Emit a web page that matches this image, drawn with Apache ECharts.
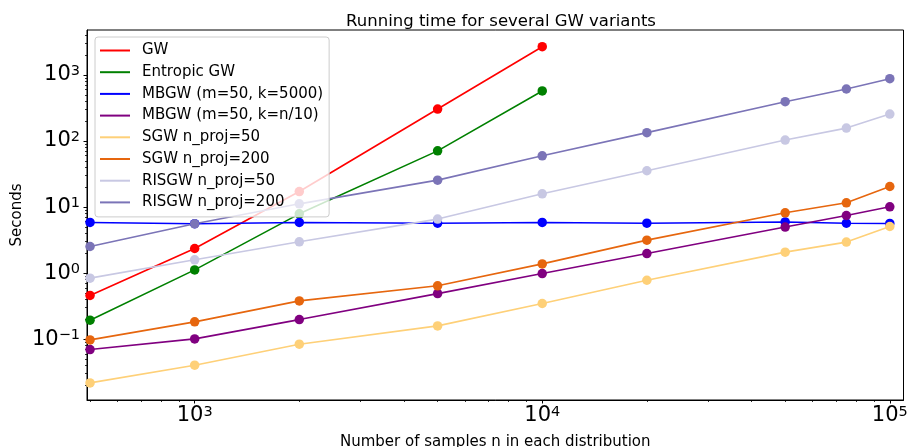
<!DOCTYPE html>
<html>
<head>
<meta charset="utf-8">
<script src="https://cdn.jsdelivr.net/npm/echarts@6/dist/echarts.min.js"></script>
<style>html,body{margin:0;padding:0;background:#fff}#c{width:907px;height:447px}</style>
</head>
<body>
<div id="c"></div>
<script>
const xValues = [500, 1000, 2000, 5000, 10000, 20000, 50000, 75000, 100000];
const gw = [0.46, 2.36, 17.2, 305, 2680];
const entropicGw = [0.194, 1.12, 7.9, 71, 573];
const mbgwK5000 = [5.85, 5.6, 5.85, 5.7, 5.85, 5.7, 5.95, 5.7, 5.65];
const mbgwKn10 = [0.0697, 0.101, 0.198, 0.49, 0.986, 1.98, 4.98, 7.46, 10.1];
const sgw50 = [0.0218, 0.0404, 0.084, 0.159, 0.347, 0.78, 2.08, 2.95, 5.08];
const sgw200 = [0.0975, 0.183, 0.38, 0.643, 1.38, 3.16, 8.2, 11.6, 20.5];
const risgw50 = [0.84, 1.59, 2.98, 6.58, 15.9, 35.5, 103.5, 157, 256];
const risgw200 = [2.53, 5.58, 11.2, 25.6, 59.8, 134, 394, 614, 880];

const seriesNames = ['GW', 'Entropic GW', 'MBGW (m=50, k=5000)', 'MBGW (m=50, k=n/10)',
  'SGW n_proj=50', 'SGW n_proj=200', 'RISGW n_proj=50', 'RISGW n_proj=200'];
const seriesValues = [gw, entropicGw, mbgwK5000, mbgwKn10, sgw50, sgw200, risgw50, risgw200];
const seriesColors = ['#ff0000', '#008000', '#0000ff', '#800080', '#fed078', '#e6660e', '#c8c8e3', '#7b74b7'];

const xMin = 490, xMax = 109500, yMin = 0.012, yMax = 4800;

function minorTicks(lo, hi) {
  const out = [];
  for (let e = Math.floor(Math.log10(lo)); e <= Math.ceil(Math.log10(hi)); e++) {
    for (let m = 2; m <= 9; m++) {
      const v = m * Math.pow(10, e);
      if (v >= lo && v <= hi) out.push(Math.log10(v));
    }
  }
  return out;
}

function fmt(v) {
  const e = Math.round(Math.log10(v));
  if (Math.abs(Math.log10(v) - e) > 1e-6) return '';
  const s = e < 0 ? '\u2212' + (-e) : String(e);
  return '{b|10}{s|' + s + '}';
}
const rich = {
  b: { fontSize: 21, lineHeight: 22, color: '#000', fontFamily: 'DejaVu Sans' },
  s: { fontSize: 14.5, lineHeight: 14, color: '#000', fontFamily: 'DejaVu Sans', verticalAlign: 'top' }
};
const font = 'DejaVu Sans';

const chart = echarts.init(document.getElementById('c'), null, { renderer: 'canvas' });
chart.setOption({
  animation: false,
  backgroundColor: '#fff',
  title: {
    text: 'Running time for several GW variants',
    left: 496, top: 8, textAlign: 'center',
    textStyle: { fontSize: 16.5, fontWeight: 'normal', color: '#000', fontFamily: font }
  },
  grid: { left: 87, right: 3.5, top: 30, bottom: 47, show: true, borderColor: '#000', borderWidth: 1,
    backgroundColor: 'transparent', containLabel: false, outerBoundsMode: 'none' },
  legend: {
    orient: 'vertical', left: 95, top: 37,
    itemWidth: 30, itemHeight: 2, itemGap: 6.7, icon: 'rect',
    padding: [6, 6, 7, 5],
    backgroundColor: 'rgba(255,255,255,0.8)', borderColor: '#cccccc', borderWidth: 1, borderRadius: 3,
    textStyle: { fontSize: 15, lineHeight: 15, color: '#000', fontFamily: font, padding: [0, 0, 0, 7] },
    data: seriesNames
  },
  xAxis: [{
    type: 'log', logBase: 10, min: xMin, max: xMax,
    name: 'Number of samples n in each distribution', nameLocation: 'middle', nameGap: 35,
    nameMoveOverlap: false,
    nameTextStyle: { fontSize: 15, color: '#000', fontFamily: font },
    axisLine: { show: true, onZero: false, lineStyle: { color: '#000', width: 1 } },
    axisTick: { show: true, length: 3.5, lineStyle: { color: '#000', width: 1 } },
    axisLabel: { show: true, margin: 5, formatter: fmt, rich: rich, showMinLabel: false, showMaxLabel: false },
    splitLine: { show: false }, minorTick: { show: false }
  }, {
    type: 'value', min: Math.log10(xMin), max: Math.log10(xMax), position: 'bottom',
    axisLine: { show: false, onZero: false },
    axisTick: { show: true, length: 2, lineStyle: { color: '#000', width: 0.8 }, customValues: minorTicks(xMin, xMax) },
    axisLabel: { show: false }, splitLine: { show: false }
  }],
  yAxis: [{
    type: 'log', logBase: 10, min: yMin, max: yMax,
    name: 'Seconds', nameLocation: 'middle', nameGap: 62,
    nameMoveOverlap: false,
    nameTextStyle: { fontSize: 15, color: '#000', fontFamily: font },
    axisLine: { show: true, onZero: false, lineStyle: { color: '#000', width: 1 } },
    axisTick: { show: true, length: 3.5, lineStyle: { color: '#000', width: 1 } },
    axisLabel: { show: true, margin: 7, formatter: fmt, rich: rich, showMinLabel: false, showMaxLabel: false },
    splitLine: { show: false }, minorTick: { show: false }
  }, {
    type: 'value', min: Math.log10(yMin), max: Math.log10(yMax), position: 'left',
    axisLine: { show: false, onZero: false },
    axisTick: { show: true, length: 2, lineStyle: { color: '#000', width: 0.8 }, customValues: minorTicks(yMin, yMax) },
    axisLabel: { show: false }, splitLine: { show: false }
  }],
  series: seriesNames.map((name, i) => ({
    name: name, type: 'line', xAxisIndex: 0, yAxisIndex: 0,
    data: seriesValues[i].map((v, j) => [xValues[j], v]),
    symbol: 'circle', symbolSize: 9.5,
    lineStyle: { color: seriesColors[i], width: 1.6 },
    itemStyle: { color: seriesColors[i] },
    emphasis: { disabled: true }
  }))
});
</script>
</body>
</html>
